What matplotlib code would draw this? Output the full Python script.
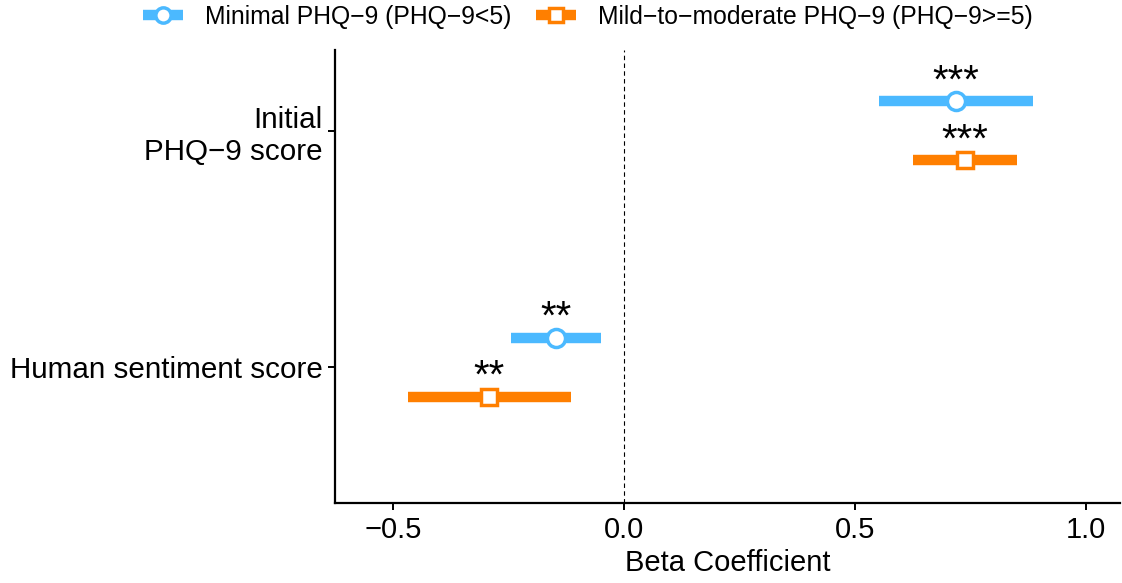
import matplotlib
matplotlib.use("Agg")
import matplotlib.pyplot as plt
from matplotlib.lines import Line2D

plt.rcParams['font.family'] = ['Liberation Sans', 'DejaVu Sans']

categories = ["Human sentiment score", "Initial\nPHQ\u22129 score"]
groups = ["Minimal PHQ\u22129 (PHQ\u22129<5)", "Mild\u2212to\u2212moderate PHQ\u22129 (PHQ\u22129>=5)"]
beta_minimal = [-0.147, 0.719]
lo_minimal = [-0.245, 0.552]
hi_minimal = [-0.050, 0.885]
stars_minimal = ["**", "***"]
beta_mild = [-0.292, 0.738]
lo_mild = [-0.468, 0.626]
hi_mild = [-0.115, 0.851]
stars_mild = ["**", "***"]
xticks = [-0.5, 0.0, 0.5, 1.0]

colors = ['#4BB9FF', '#FF7F00']
markers = ['o', 's']
dodge = [0.125, -0.125]

fig = plt.figure(figsize=(11.22, 5.83), dpi=100)
ax = fig.add_axes([335/1122, 80/583, (1120-335)/1122, (503-50)/583])

series = [(beta_minimal, lo_minimal, hi_minimal, stars_minimal),
          (beta_mild, lo_mild, hi_mild, stars_mild)]
ypos = [1, 2]
for gi, (b, lo, hi, st) in enumerate(series):
    for ci in range(len(categories)):
        y = ypos[ci] + dodge[gi]
        ax.plot([lo[ci], hi[ci]], [y, y], color=colors[gi], lw=7.5,
                solid_capstyle='butt', zorder=2)
        ax.plot([b[ci]], [y], marker=markers[gi], ms=13 if gi == 0 else 11.5,
                mfc='white', mec=colors[gi], mew=2.5, zorder=3, linestyle='none')
        ax.annotate(st[ci], (b[ci], y), xytext=(0, 14), textcoords='offset points',
                    ha='center', va='center', fontsize=29)

ax.axvline(0, color='black', lw=0.8, ls=(0, (4, 3)), zorder=1)

ax.set_xlim(-0.626, 1.074)
ax.set_ylim(0.424, 2.343)
ax.set_yticks(ypos)
ax.set_yticklabels(categories, fontsize=21.3, ha='right', multialignment='right')
ax.set_xticks(xticks)
ax.set_xticklabels([f"{t:.1f}".replace('-', '\u2212') for t in xticks], fontsize=21)
ax.set_xlabel("Beta Coefficient", fontsize=21, labelpad=4)
for s in ['top', 'right']:
    ax.spines[s].set_visible(False)
for s in ['left', 'bottom']:
    ax.spines[s].set_linewidth(1.6)
ax.tick_params(axis='both', width=1.4, length=5, color='black', pad=4)

handles = [Line2D([0], [0], color=colors[i], lw=7.5, marker=markers[i],
                  ms=11 if i == 0 else 10, mfc='white', mec=colors[i], mew=2.5,
                  solid_capstyle='butt')
           for i in range(2)]
fig.legend(handles, groups, loc='center', bbox_to_anchor=(588/1122, 1 - 17/583),
           ncol=2, frameon=False, fontsize=17.8, handlelength=1.6,
           handletextpad=0.9, columnspacing=1.0)

fig.savefig("out.png", dpi=100)
